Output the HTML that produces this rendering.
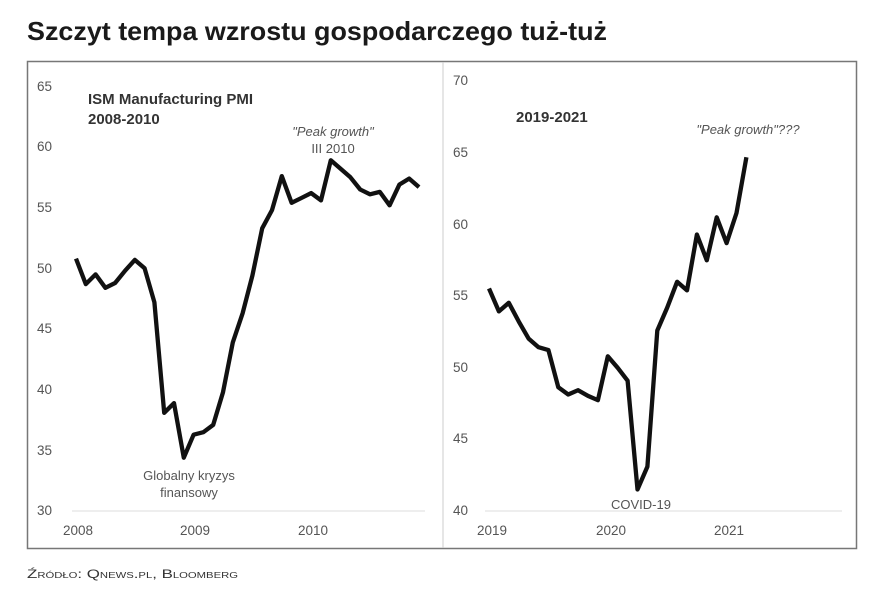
<!DOCTYPE html><html><head><style>
body{margin:0;width:870px;height:593px;background:#fff;overflow:hidden;font-family:"Liberation Sans",sans-serif}
</style></head><body>
<svg width="870" height="593" xmlns="http://www.w3.org/2000/svg" font-family="Liberation Sans, sans-serif">
<text x="27" y="40" font-size="26" font-weight="bold" fill="#1a1a1a" textLength="580" lengthAdjust="spacingAndGlyphs">Szczyt tempa wzrostu gospodarczego tuż-tuż</text>
<rect x="27.5" y="61.5" width="829" height="487" fill="none" stroke="#777" stroke-width="1.5"/>
<line x1="443" y1="62" x2="443" y2="548" stroke="#ccc" stroke-width="1"/>
<g font-size="13.5" fill="#555">
<text x="37" y="91">65</text><text x="37" y="151">60</text><text x="37" y="212">55</text><text x="37" y="273">50</text><text x="37" y="333">45</text><text x="37" y="394">40</text><text x="37" y="455">35</text><text x="37" y="515">30</text>
<text x="78" y="535" text-anchor="middle">2008</text><text x="195" y="535" text-anchor="middle">2009</text><text x="313" y="535" text-anchor="middle">2010</text>
<text x="453" y="85">70</text><text x="453" y="157">65</text><text x="453" y="229">60</text><text x="453" y="300">55</text><text x="453" y="372">50</text><text x="453" y="443">45</text><text x="453" y="515">40</text>
<text x="492" y="535" text-anchor="middle">2019</text><text x="611" y="535" text-anchor="middle">2020</text><text x="729" y="535" text-anchor="middle">2021</text>
</g>
<line x1="72" y1="511" x2="425" y2="511" stroke="#ddd"/>
<line x1="485" y1="511" x2="842" y2="511" stroke="#ddd"/>
<text x="88" y="104" font-size="15" font-weight="bold" fill="#333">ISM Manufacturing PMI</text>
<text x="88" y="124" font-size="15" font-weight="bold" fill="#333">2008-2010</text>
<text x="333" y="136" font-size="13" font-style="italic" fill="#555" text-anchor="middle">"Peak growth"</text>
<text x="333" y="153" font-size="13" fill="#555" text-anchor="middle">III 2010</text>
<text x="189" y="480" font-size="13" fill="#555" text-anchor="middle">Globalny kryzys</text>
<text x="189" y="497" font-size="13" fill="#555" text-anchor="middle">finansowy</text>
<text x="516" y="122" font-size="15" font-weight="bold" fill="#333">2019-2021</text>
<text x="748" y="134" font-size="13" font-style="italic" fill="#555" text-anchor="middle">"Peak growth"???</text>
<text x="641" y="509" font-size="13" fill="#555" text-anchor="middle">COVID-19</text>
<polyline fill="none" stroke="#111" stroke-width="4.3" stroke-linejoin="round" points="76,258.6 85.8,284.1 95.6,274.4 105.4,287.8 115.2,282.9 125,270.8 134.8,259.9 144.6,268.3 154.4,302.3 164.2,412.8 174,403.1 183.8,457.7 193.6,434.7 203.4,432.2 213.2,424.9 223,392.2 232.8,342.4 242.6,313.3 252.4,275.6 262.2,228.3 272,210.1 281.8,176.1 291.6,202.8 301.4,198 311.2,193.1 321,200.4 330.8,160.3 340.6,168.8 350.4,177.3 360.2,189.5 370,194.3 379.8,191.9 389.6,205.3 399.4,184.6 409.2,178.6 419,187.1"/>
<polyline fill="none" stroke="#111" stroke-width="4.3" stroke-linejoin="round" points="489,288.5 498.9,311.4 508.8,302.8 518.7,321.4 528.6,338.6 538.5,347.2 548.4,350.1 558.3,387.3 568.2,394.5 578.1,390.2 588,395.9 597.9,400.2 607.8,356.3 617.7,367.8 627.6,380.7 637.5,489.5 647.4,466.6 657.3,330.5 667.2,307.6 677.1,281.8 687,290.4 696.9,234.5 706.8,260.3 716.7,217.3 726.6,243.1 736.5,213 746.4,157.2"/>
<text x="27" y="578" font-size="12" fill="#333" style="font-variant:small-caps" textLength="211" lengthAdjust="spacingAndGlyphs">Źródło: Qnews.pl, Bloomberg</text>
</svg>
</body></html>
